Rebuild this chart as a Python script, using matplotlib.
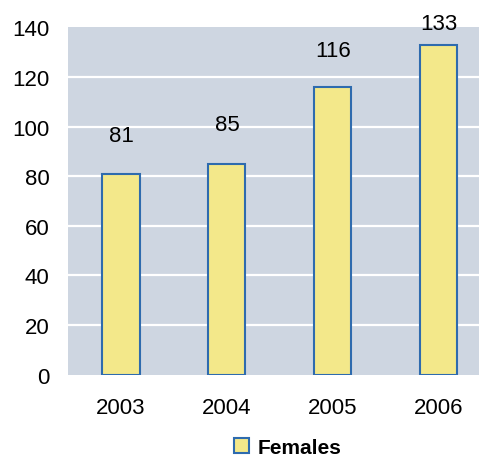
import matplotlib.pyplot as plt
import numpy as np

plt.rcParams['font.family'] = ['Liberation Sans', 'DejaVu Sans']

years = ['2003', '2004', '2005', '2006']
females = [81, 85, 116, 133]
# how far above each bar its value label sits in the source
label_gap = [15.3, 16, 14.6, 8.4]

fig = plt.figure(figsize=(4.81, 4.6), dpi=100)
ax = fig.add_axes([0.1414, 0.1833, 0.8545, 0.7552])
ax.set_facecolor('#CED6E1')

x = np.arange(len(years))
ax.bar(x, females, width=0.35, color='#F3E88A', edgecolor='#2E6BAE',
       linewidth=1.5, label='Females', zorder=3)

for xi, v, g in zip(x, females, label_gap):
    ax.text(xi, v + g, str(v), ha='center', va='center', fontsize=16, zorder=4)

ax.set_ylim(0, 140)
ax.set_xlim(-0.5, 3.38)
ax.set_yticks(range(0, 141, 20))
ax.set_xticks(x)
ax.set_xticklabels(years)
for y in range(20, 140, 20):
    ax.axhline(y, color='white', linewidth=1.6, zorder=1)
ax.tick_params(length=0, labelsize=16)
ax.tick_params(axis='y', pad=13.5)
ax.tick_params(axis='x', pad=16)
for s in ax.spines.values():
    s.set_visible(False)

fig.legend(loc='center', bbox_to_anchor=(0.599, 0.026), frameon=False,
           prop={'weight': 'bold', 'size': 15}, handlelength=0.72,
           handleheight=0.72, handletextpad=0.42, borderpad=0)

fig.savefig('out.png', dpi=100)
